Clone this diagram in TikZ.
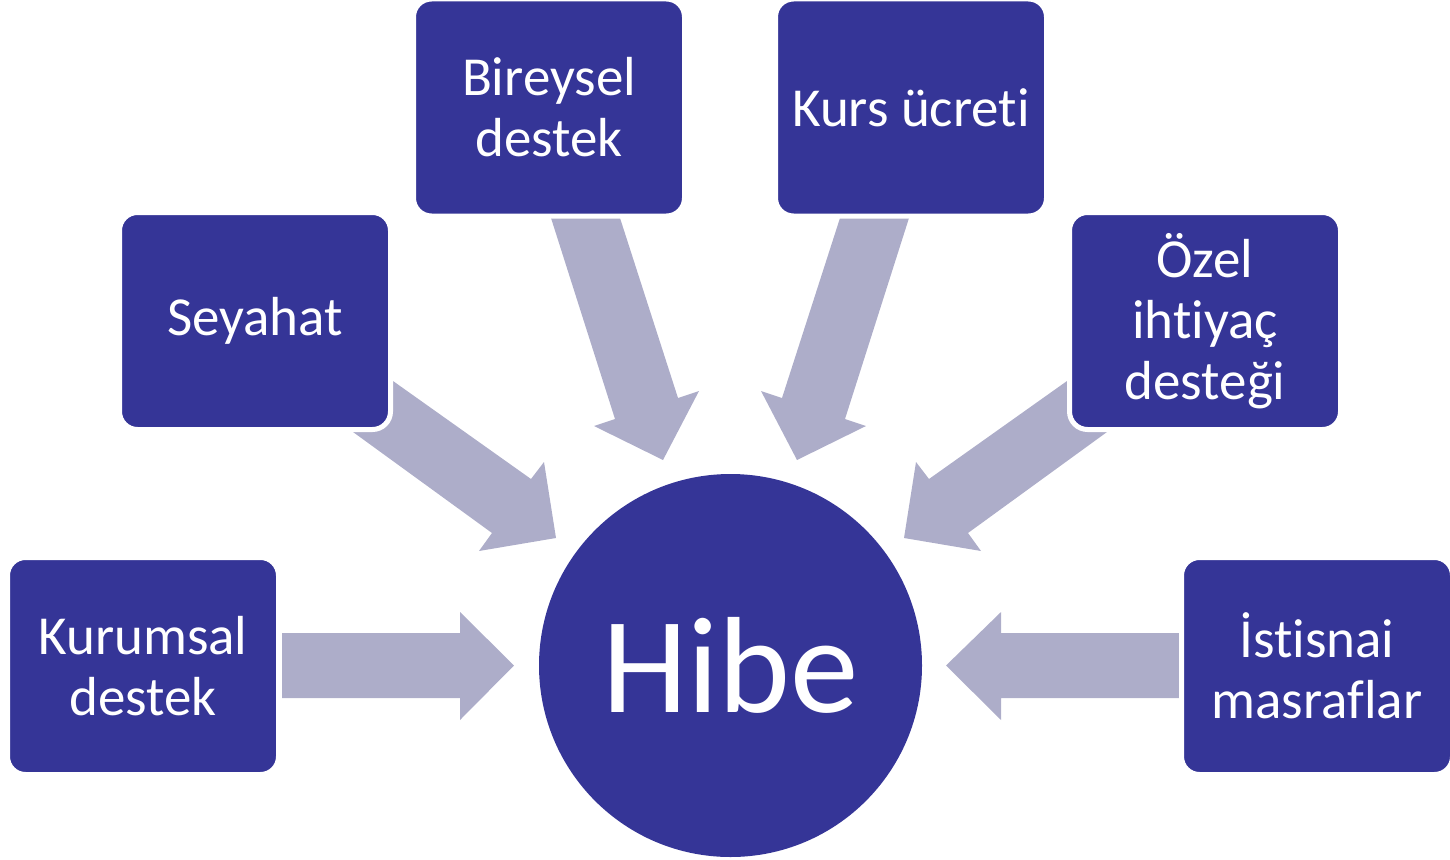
\documentclass[tikz,border=0pt]{standalone}
\usepackage{fontspec}
\setmainfont{Carlito}[Ligatures={NoCommon}]
\definecolor{boxblue}{RGB}{53,53,151}
\definecolor{arrowgray}{RGB}{173,173,201}
\tikzset{
  itembox/.style={draw=white, line width=5pt, fill=boxblue, rounded corners=18pt,
    minimum width=271pt, minimum height=217pt, inner sep=0pt, text=white, align=center,
    font=\fontsize{55}{61}\selectfont},
  hub/.style={circle, fill=boxblue, minimum size=383pt, inner sep=0pt, text=white,
    font=\fontsize{137}{140}\selectfont},
  blockarrow/.style={fill=arrowgray, draw=none}
}
\begin{document}
\begin{tikzpicture}[x=1pt,y=-1pt]
\useasboundingbox (0,0) rectangle (1450,859);
% arrows (drawn first, boxes overlap them)
\fill[blockarrow] (282,633) -- (460,633) -- (460,612) -- (514,665.5) -- (460,720) -- (460,698) -- (282,698) -- cycle;
\fill[blockarrow] (1179,633) -- (1001,633) -- (1001,612) -- (946,665.5) -- (1001,720) -- (1001,698) -- (1179,698) -- cycle;
\fill[blockarrow] (393,381) -- (531,479) -- (544,462) -- (556,538) -- (479,551) -- (492,533) -- (353,432) -- cycle;
\fill[blockarrow] (1067,381) -- (929,479) -- (916,462) -- (904,538) -- (981,551) -- (968,533) -- (1107,432) -- cycle;
\fill[blockarrow] (551,218) -- (620,218) -- (678,398) -- (699,391) -- (663,460) -- (594,426) -- (615,419) -- cycle;
\fill[blockarrow] (909,218) -- (840,218) -- (782,398) -- (761,391) -- (797,460) -- (866,426) -- (845,419) -- cycle;
% boxes
\node[itembox] (kur)  at (143,666)    {Kurumsal\\destek};
\node[itembox] (sey)  at (255,321)    {Seyahat};
\node[itembox] (bir)  at (549,107.5)  {Bireysel\\destek};
\node[itembox] (kurs) at (911,107.5)  {Kurs ücreti};
\node[itembox] (ozel) at (1205,321)   {Özel\\ihtiyaç\\desteği};
\node[itembox] (ist)  at (1317,666)   {İstisnai\\masraflar};
% hub
\node[hub] (hibe) at (730.5,665.5) {Hibe};
\end{tikzpicture}
\end{document}
